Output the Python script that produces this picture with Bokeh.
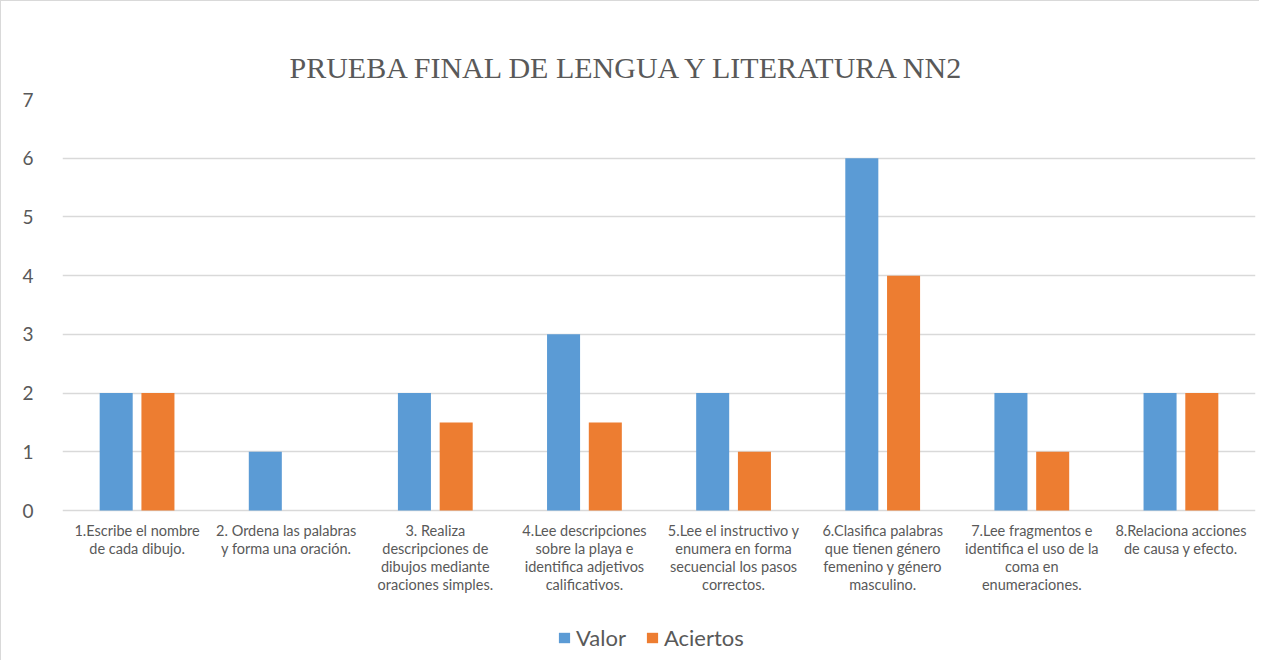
from bokeh.plotting import figure
from bokeh.models import (ColumnDataSource, Range1d, FixedTicker, Legend, LegendItem,
                          Title)
from bokeh.core.properties import value
from bokeh.transform import dodge
from bokeh.embed import file_html
from bokeh.resources import INLINE

title = "PRUEBA FINAL DE LENGUA Y LITERATURA NN2"
categories = [
    "1.Escribe el nombre\nde cada dibujo.",
    "2. Ordena las palabras\ny forma una oración.",
    "3. Realiza\ndescripciones de\ndibujos mediante\noraciones simples.",
    "4.Lee descripciones\nsobre la playa e\nidentifica adjetivos\ncalificativos.",
    "5.Lee el instructivo y\nenumera en forma\nsecuencial los pasos\ncorrectos.",
    "6.Clasifica palabras\nque tienen género\nfemenino y género\nmasculino.",
    "7.Lee fragmentos e\nidentifica el uso de la\ncoma en\nenumeraciones.",
    "8.Relaciona acciones\nde causa y efecto.",
]
valor = [2, 1, 2, 3, 2, 6, 2, 2]
aciertos = [2, 0, 1.5, 1.5, 1, 4, 1, 2]
series_names = ["Valor", "Aciertos"]
y_ticks = [0, 1, 2, 3, 4, 5, 6, 7]
colors = ["#5B9BD5", "#ED7D31"]

n = len(categories)
xpos = [i + 0.5 for i in range(n)]
src = ColumnDataSource(dict(x=xpos, valor=valor, aciertos=aciertos,
                            base=[0] * n, label=categories))

FONT = "Lato"
GREY = "#595959"

# layout in pixels
PLOT_H = 411          # height of 0..7 band
BELOW = 150           # room under 0 for labels and legend
ymax = y_ticks[-1]
ymin = -BELOW * ymax / PLOT_H

p = figure(frame_width=1193, frame_height=PLOT_H + BELOW, output_backend="svg",
           toolbar_location=None,
           x_range=Range1d(0, n), y_range=Range1d(ymin, ymax),
           min_border_left=61, min_border_right=4, min_border_top=98, min_border_bottom=0,
           styles={"border-left": "1px solid #d9d9d9", "border-top": "1px solid #d9d9d9"})
p.outline_line_color = None
p.background_fill_color = "white"
p.border_fill_color = "white"

bw = 0.2215
off = 0.14
r1 = p.vbar(x=dodge("x", -off, range=p.x_range), top="valor", width=bw, source=src,
            fill_color=colors[0], line_color=None)
r2 = p.vbar(x=dodge("x", off, range=p.x_range), top="aciertos", width=bw, source=src,
            fill_color=colors[1], line_color=None)

# grid
p.xgrid.grid_line_color = None
p.ygrid.grid_line_color = "#d9d9d9"
p.ygrid.grid_line_width = 1.3
p.yaxis.ticker = FixedTicker(ticks=y_ticks)
p.ygrid.ticker = FixedTicker(ticks=y_ticks)

# y axis
ya = p.yaxis[0]
ya.axis_line_color = None
ya.major_tick_line_color = None
ya.minor_tick_line_color = None
ya.major_label_standoff = 23
ya.major_label_text_font = FONT
ya.major_label_text_font_size = "19px"
ya.major_label_text_color = GREY

# x axis: category labels drawn under the zero line
p.xaxis.visible = False
p.text(x="x", y="base", text="label", source=src, y_offset=11,
       text_align="center", text_baseline="top",
       text_font=value(FONT), text_font_size="14.5px", text_color=GREY,
       text_line_height=1.07)

# title
p.add_layout(Title(text=title, align="left", offset=227, standoff=32,
                   text_font="Liberation Serif", text_font_size="30px",
                   text_color=GREY, text_font_style="normal"), "above")

legend = Legend(items=[LegendItem(label=series_names[0], renderers=[r1]),
                       LegendItem(label=series_names[1], renderers=[r2])],
                location=(495, 9), orientation="horizontal",
                glyph_width=14, glyph_height=13, label_standoff=5, spacing=19,
                padding=0, margin=0, border_line_color=None,
                background_fill_alpha=0,
                label_text_font=FONT, label_text_font_size="22px",
                label_text_color=GREY)
p.add_layout(legend, "center")

open("out.html", "w").write(file_html(p, INLINE))
